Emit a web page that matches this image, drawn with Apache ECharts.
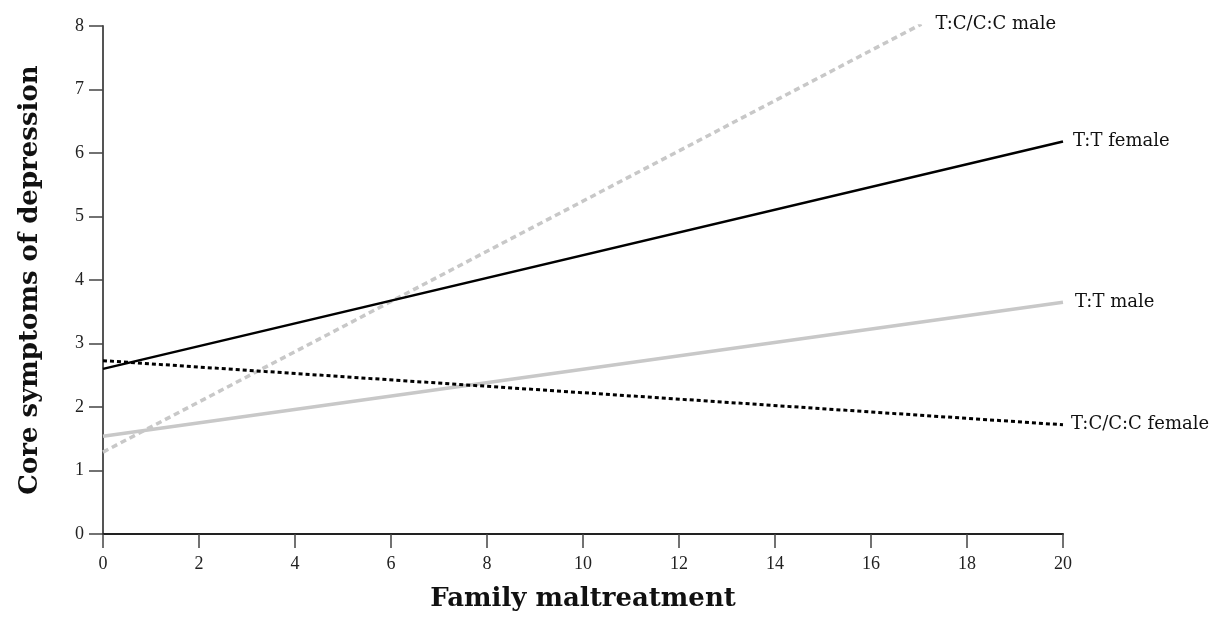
<!DOCTYPE html>
<html><head><meta charset="utf-8">
<script src="https://cdn.jsdelivr.net/npm/echarts@6/dist/echarts.min.js"></script>
<style>html,body{margin:0;padding:0;background:#fff}#c{width:1231px;height:617px}</style>
</head><body><div id="c"></div>
<script>
var xTicks = [0, 2, 4, 6, 8, 10, 12, 14, 16, 18, 20];
var yTicks = [0, 1, 2, 3, 4, 5, 6, 7, 8];
var seriesNames = ['T:T female', 'T:T male', 'T:C/C:C female', 'T:C/C:C male'];
var ttFemale = [[0, 2.6], [20, 6.18]];
var ttMale = [[0, 1.54], [20, 3.65]];
var tcFemale = [[0, 2.73], [20, 1.72]];
var tcMale = [[0, 1.29], [17.05, 8.03]];

var font = "'DejaVu Serif', 'Liberation Serif', serif";
var tickFont = "'Liberation Serif', 'DejaVu Serif', serif";
function lbl(dist) {
  return {show: true, formatter: '{a}', fontFamily: font, fontSize: 18, color: '#111', distance: dist};
}
var chart = echarts.init(document.getElementById('c'));
chart.setOption({
  animation: false,
  grid: {left: 103, right: 168, top: 26, bottom: 83, outerBoundsMode: 'none', containLabel: false},
  xAxis: {
    type: 'value', min: 0, max: 20, interval: 2,
    name: 'Family maltreatment', nameLocation: 'middle', nameGap: 52,
    nameTextStyle: {fontFamily: font, fontSize: 26, fontWeight: 'bold', color: '#111'},
    axisLine: {lineStyle: {color: '#222', width: 2}},
    axisTick: {length: 14, lineStyle: {color: '#444', width: 1.5}},
    axisLabel: {fontFamily: tickFont, fontSize: 18, color: '#222', margin: 21},
    splitLine: {show: false}
  },
  yAxis: {
    type: 'value', min: 0, max: 8, interval: 1,
    name: 'Core symptoms of depression', nameLocation: 'middle', nameGap: 60,
    nameTextStyle: {fontFamily: font, fontSize: 26, fontWeight: 'bold', color: '#111'},
    axisLine: {show: true, lineStyle: {color: '#555', width: 2}},
    axisTick: {show: true, length: 14, lineStyle: {color: '#444', width: 1.5}},
    axisLabel: {fontFamily: tickFont, fontSize: 18, color: '#222', margin: 19},
    splitLine: {show: false}
  },
  series: [
    {name: seriesNames[0], type: 'line', data: ttFemale, symbol: 'none',
     lineStyle: {color: '#000', width: 2.5}, endLabel: lbl(10), z: 4},
    {name: seriesNames[1], type: 'line', data: ttMale, symbol: 'none',
     lineStyle: {color: '#c8c8c8', width: 3.5}, endLabel: lbl(12), z: 2},
    {name: seriesNames[2], type: 'line', data: tcFemale, symbol: 'none',
     lineStyle: {color: '#000', width: 3, type: [4, 3]}, endLabel: lbl(8), z: 3},
    {name: seriesNames[3], type: 'line', data: tcMale, symbol: 'none',
     lineStyle: {color: '#c8c8c8', width: 3.5, type: [6, 4]}, endLabel: lbl(14), z: 1}
  ]
});
</script></body></html>
